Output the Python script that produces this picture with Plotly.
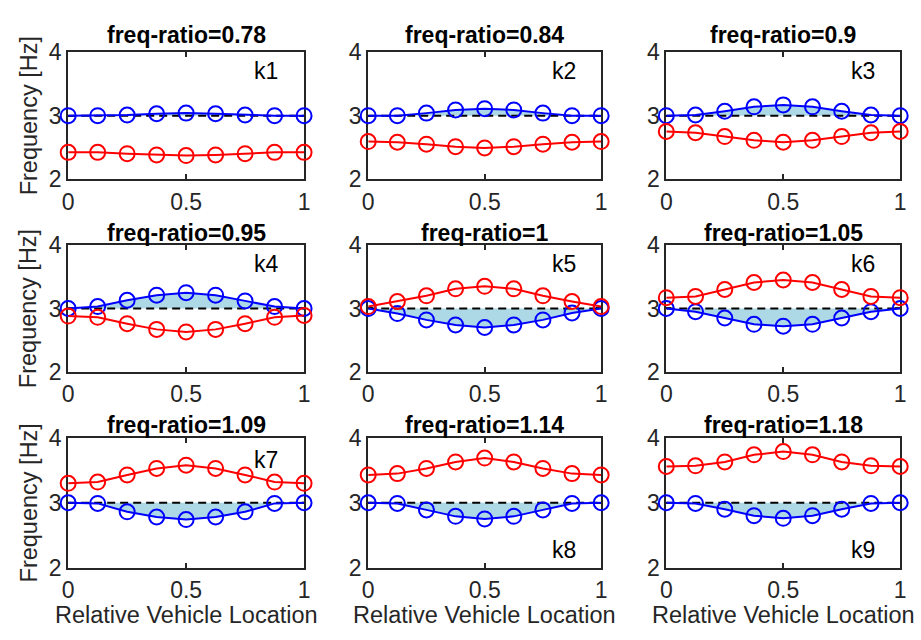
import plotly.graph_objects as go

# Relative vehicle location along the span (9 sampled positions)
location = [0.0, 0.125, 0.25, 0.375, 0.5, 0.625, 0.75, 0.875, 1.0]

# Frequency ratio per case and case labels
freq_ratios = ["0.78", "0.84", "0.9", "0.95", "1", "1.05", "1.09", "1.14", "1.18"]
case_labels = ["k1", "k2", "k3", "k4", "k5", "k6", "k7", "k8", "k9"]

# Reference (bridge) frequency [Hz]
reference_freq = 3.0

# Blue branch frequencies [Hz]
blue_k1 = [3.00, 3.00, 3.01, 3.03, 3.04, 3.03, 3.01, 3.00, 3.00]
blue_k2 = [3.00, 3.00, 3.04, 3.09, 3.11, 3.09, 3.04, 3.00, 3.00]
blue_k3 = [3.00, 3.01, 3.07, 3.14, 3.17, 3.14, 3.07, 3.01, 3.00]
blue_k4 = [3.00, 3.03, 3.13, 3.21, 3.25, 3.21, 3.12, 3.03, 3.00]
blue_k5 = [3.00, 2.92, 2.82, 2.74, 2.70, 2.74, 2.82, 2.93, 3.00]
blue_k6 = [3.00, 2.95, 2.85, 2.75, 2.72, 2.75, 2.85, 2.95, 3.00]
blue_k7 = [3.00, 2.99, 2.86, 2.78, 2.74, 2.78, 2.86, 2.99, 3.00]
blue_k8 = [3.00, 2.99, 2.89, 2.79, 2.75, 2.79, 2.89, 2.99, 3.00]
blue_k9 = [3.00, 2.99, 2.90, 2.80, 2.76, 2.80, 2.90, 2.99, 3.00]

# Red branch frequencies [Hz]
red_k1 = [2.42, 2.42, 2.40, 2.38, 2.37, 2.38, 2.40, 2.42, 2.42]
red_k2 = [2.59, 2.58, 2.55, 2.51, 2.49, 2.51, 2.55, 2.58, 2.59]
red_k3 = [2.75, 2.73, 2.67, 2.61, 2.58, 2.61, 2.67, 2.73, 2.75]
red_k4 = [2.88, 2.86, 2.76, 2.67, 2.63, 2.67, 2.76, 2.86, 2.89]
red_k5 = [3.03, 3.11, 3.20, 3.31, 3.35, 3.31, 3.20, 3.11, 3.03]
red_k6 = [3.17, 3.19, 3.30, 3.41, 3.45, 3.41, 3.30, 3.19, 3.17]
red_k7 = [3.30, 3.32, 3.43, 3.53, 3.58, 3.53, 3.43, 3.32, 3.30]
red_k8 = [3.43, 3.45, 3.53, 3.63, 3.69, 3.63, 3.53, 3.45, 3.43]
red_k9 = [3.56, 3.57, 3.63, 3.74, 3.79, 3.74, 3.63, 3.57, 3.56]

# Axis tick values and labels
x_ticks = [0, 0.5, 1]
x_tick_text = ["0", "0.5", "1"]
y_ticks = [2, 3, 4]
y_tick_text = ["2", "3", "4"]

blue_series = [blue_k1, blue_k2, blue_k3, blue_k4, blue_k5, blue_k6, blue_k7, blue_k8, blue_k9]
red_series = [red_k1, red_k2, red_k3, red_k4, red_k5, red_k6, red_k7, red_k8, red_k9]

W, H = 921, 640
col_px = [(63, 302), (367, 603), (669, 906)]
row_px = [(41, 173), (242, 374), (443, 578)]
title_y_px = [23, 229, 429]

FONT = "Liberation Sans, Arial, Helvetica, sans-serif"
AX_COLOR = "#262626"

fig = go.Figure()
layout = dict(
    width=W, height=H,
    margin=dict(l=0, r=0, t=0, b=0),
    paper_bgcolor="white", plot_bgcolor="white",
    showlegend=False,
    font=dict(family=FONT, color=AX_COLOR),
)
annotations = []

baseline = [reference_freq] * len(location)

for i in range(9):
    r, c = divmod(i, 3)
    n = "" if i == 0 else str(i + 1)
    xa, ya = "x" + n, "y" + n
    x0, x1 = col_px[c]
    y0, y1 = row_px[r]

    common = dict(showline=True, linecolor=AX_COLOR, linewidth=2, mirror="ticks",
                  ticks="inside", ticklen=5, tickwidth=1.5, tickcolor=AX_COLOR,
                  showgrid=False, zeroline=False, layer="below traces",
                  tickfont=dict(family=FONT, size=23, color=AX_COLOR), fixedrange=True)
    layout["xaxis" + n] = dict(common, domain=[x0 / W, x1 / W], anchor=ya, range=[0, 1],
                               tickvals=x_ticks, ticktext=x_tick_text, ticklabelstandoff=1)
    layout["yaxis" + n] = dict(common, domain=[1 - y1 / H, 1 - y0 / H], anchor=xa, range=[2, 4],
                               tickvals=y_ticks, ticktext=y_tick_text, ticklabelstandoff=0)

    # shaded region between blue branch and the reference frequency
    fig.add_trace(go.Scatter(x=location, y=baseline, mode="lines", line=dict(width=0),
                             xaxis=xa, yaxis=ya, hoverinfo="skip"))
    fig.add_trace(go.Scatter(x=location, y=blue_series[i], mode="lines", line=dict(width=0),
                             fill="tonexty", fillcolor="#ADD8E6", xaxis=xa, yaxis=ya,
                             hoverinfo="skip"))
    # reference frequency line
    fig.add_trace(go.Scatter(x=location, y=baseline, mode="lines",
                             line=dict(color="black", width=2, dash="8px,5px"),
                             xaxis=xa, yaxis=ya))
    # blue and red branches
    fig.add_trace(go.Scatter(x=location, y=blue_series[i], mode="lines+markers",
                             line=dict(color="#0000FF", width=2),
                             marker=dict(symbol="circle-open", size=15, color="#0000FF",
                                         line=dict(width=2, color="#0000FF")),
                             cliponaxis=False, xaxis=xa, yaxis=ya))
    fig.add_trace(go.Scatter(x=location, y=red_series[i], mode="lines+markers",
                             line=dict(color="#FF0000", width=2),
                             marker=dict(symbol="circle-open", size=15, color="#FF0000",
                                         line=dict(width=2, color="#FF0000")),
                             cliponaxis=False, xaxis=xa, yaxis=ya))

    # panel title
    annotations.append(dict(text="<b>freq-ratio=" + freq_ratios[i] + "</b>",
                            xref="paper", yref="paper", x=(x0 + x1) / 2 / W,
                            y=1 - title_y_px[r] / H, xanchor="center", yanchor="middle",
                            showarrow=False, font=dict(size=23, color="black", family=FONT)))
    # case label
    ky = 2.27 if i >= 7 else (3.66 if i == 6 else 3.70)
    annotations.append(dict(text=case_labels[i], xref=xa, yref=ya, x=0.84, y=ky,
                            xanchor="center", yanchor="middle", showarrow=False,
                            font=dict(size=23, color="black", family=FONT)))

# axis titles
for c in range(3):
    x0, x1 = col_px[c]
    annotations.append(dict(text="Relative Vehicle Location", xref="paper", yref="paper",
                            x=(x0 + x1) / 2 / W, y=1 - 628 / H, xanchor="center",
                            yanchor="middle", showarrow=False,
                            font=dict(size=23.5, color=AX_COLOR, family=FONT)))
for r in range(3):
    y0, y1 = row_px[r]
    annotations.append(dict(text="Frequency [Hz]", xref="paper", yref="paper",
                            x=23 / W, y=1 - (y0 + y1) / 2 / H, xanchor="center",
                            yanchor="middle", textangle=-90, showarrow=False,
                            font=dict(size=23.5, color=AX_COLOR, family=FONT)))

layout["annotations"] = annotations
fig.update_layout(**layout)
# the page body should not add its default margin around the figure
fig.write_html("out.html",
               post_script="document.body.style.margin='0';document.body.style.overflow='hidden';")
